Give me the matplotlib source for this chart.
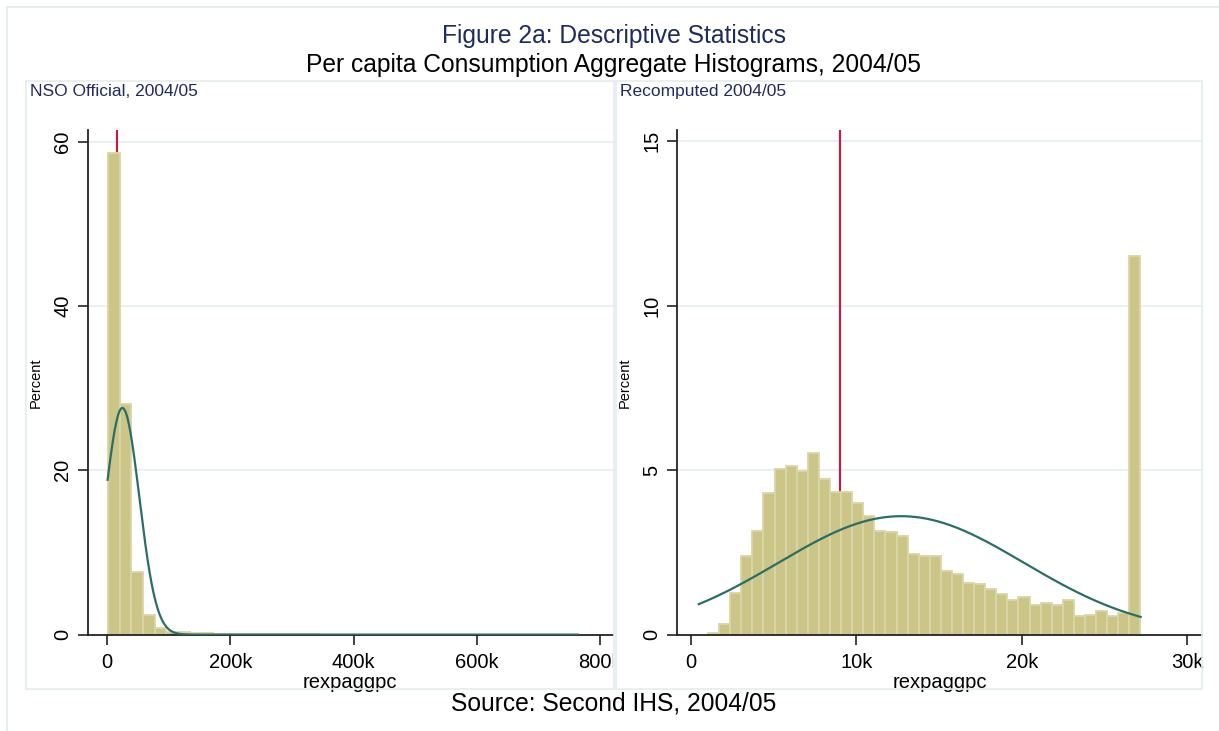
import numpy as np
import matplotlib
matplotlib.use("Agg")
import matplotlib.pyplot as plt
from matplotlib.patches import Rectangle
from matplotlib.lines import Line2D
from matplotlib.ticker import FixedLocator, FixedFormatter

# ---------------- data ----------------
# NSO official per-capita consumption: 40 bins starting at 1.1k, width 19k
nso_bin_start = 1100.0
nso_bin_width = 19000.0
nso_percent = [58.65, 28.10, 7.66, 2.39, 0.85, 0.36, 0.36, 0.20, 0.20, 0.08,
               0.06, 0.05, 0.04, 0.03, 0.03, 0.02, 0.02, 0.02, 0.01, 0.01,
               0.01, 0.01, 0.01, 0.0, 0.01, 0.0, 0.0, 0.01, 0.0, 0.0,
               0.0, 0.0, 0.0, 0.0, 0.0, 0.0, 0.0, 0.0, 0.0, 0.01]
nso_marker = 16200.0
nso_normal_mean = 24500.0
nso_normal_sd = 27500.0
nso_normal_peak = 27.6
nso_normal_range = (500.0, 764000.0)

# Recomputed per-capita consumption: 39 bins starting at 1.03k, width 0.67k
rec_bin_start = 1030.0
rec_bin_width = 670.0
rec_percent = [0.05, 0.33, 1.25, 2.40, 3.16, 4.29, 5.02, 5.14, 4.97, 5.53,
               4.74, 4.33, 4.33, 3.99, 3.60, 3.16, 3.11, 3.01, 2.46, 2.40,
               2.38, 1.92, 1.85, 1.58, 1.55, 1.39, 1.22, 1.06, 1.13, 0.91,
               0.95, 0.91, 1.05, 0.58, 0.61, 0.72, 0.58, 0.65, 11.52]
rec_marker = 9030.0
rec_normal_mean = 12700.0
rec_normal_sd = 7420.0
rec_normal_peak = 3.60
rec_normal_range = (470.0, 27170.0)

nso_xticks = [0, 200000, 400000, 600000, 800000]
nso_xticklabels = ["0", "200k", "400k", "600k", "800k"]
nso_yticks = [0, 20, 40, 60]
rec_xticks = [0, 10000, 20000, 30000]
rec_xticklabels = ["0", "10k", "20k", "30k"]
rec_yticks = [0, 5, 10, 15]

title = "Figure 2a: Descriptive Statistics"
subtitle = "Per capita Consumption Aggregate Histograms, 2004/05"
panel_titles = ["NSO Official, 2004/05", "Recomputed 2004/05"]
x_label = "rexpaggpc"
y_label = "Percent"
source_note = "Source: Second IHS, 2004/05"

# ---------------- style ----------------
FONT = "Liberation Sans"
BAR_FILL = "#cbc588"
BAR_EDGE = "#dad6a6"
CURVE = "#2a6e66"
MARKER = "#d4143f"
GRID = "#e9f0f2"
BOX = "#e4ecee"
NAVY = "#1e2c5c"
AXIS = "#222222"

W, H = 1219, 731
fig = plt.figure(figsize=(W / 100, H / 100), dpi=100)
fig.patch.set_facecolor("white")


def px_rect(x0, y0, x1, y1):
    return [x0 / W, 1 - y1 / H, (x1 - x0) / W, (y1 - y0) / H]


def fig_line(xs, ys, color, lw=1.2):
    fig.add_artist(Line2D([x / W for x in xs], [1 - y / H for y in ys],
                          transform=fig.transFigure, color=color, lw=lw))


# outer frame (left and top edges visible)
fig_line([7, 7], [7, 731], BOX, 1.3)
fig_line([7, 1219], [7, 7], BOX, 1.3)

# panel boxes
for (x0, x1) in [(26, 614), (616, 1202)]:
    fig.add_artist(Rectangle((x0 / W, 1 - 689 / H), (x1 - x0) / W, (689 - 81) / H,
                             transform=fig.transFigure, fill=False,
                             edgecolor=BOX, lw=1.2))

fig.text(614 / W, 1 - 43 / H, title, ha="center", va="baseline",
         fontsize=17.7, color=NAVY, family=FONT)
fig.text(613 / W, 1 - 72 / H, subtitle, ha="center", va="baseline",
         fontsize=17.7, color="black", family=FONT)
fig.text(30 / W, 1 - 96 / H, panel_titles[0], ha="left", va="baseline",
         fontsize=12.5, color=NAVY, family=FONT)
fig.text(620 / W, 1 - 96 / H, panel_titles[1], ha="left", va="baseline",
         fontsize=12.5, color=NAVY, family=FONT)
fig.text(614 / W, 1 - 711 / H, source_note, ha="center", va="baseline",
         fontsize=17.7, color="black", family=FONT)


def draw_panel(rect, start, width, pct, marker, mu, sd, peak, xr,
               xlim, ylim, xticks, xticklabels, yticks, clip_x=None):
    ax = fig.add_axes(rect)
    ax.set_facecolor("none")
    n = len(pct)
    lefts = start + width * np.arange(n)
    ax.bar(lefts, pct, width=width, align="edge", color=BAR_FILL,
           edgecolor=BAR_EDGE, linewidth=1.3, zorder=2)
    ax.axvline(marker, color=MARKER, lw=1.5, zorder=1.5)
    xs = np.linspace(xr[0], xr[1], 600)
    ax.plot(xs, peak * np.exp(-0.5 * ((xs - mu) / sd) ** 2),
            color=CURVE, lw=1.6, zorder=3)
    ax.set_xlim(*xlim)
    ax.set_ylim(*ylim)
    for y in yticks[1:]:
        ax.axhline(y, color=GRID, lw=1.5, zorder=0.5)
    ax.xaxis.set_major_locator(FixedLocator(xticks))
    ax.xaxis.set_major_formatter(FixedFormatter(xticklabels))
    ax.yaxis.set_major_locator(FixedLocator(yticks))
    for s in ["top", "right"]:
        ax.spines[s].set_visible(False)
    for s in ["left", "bottom"]:
        ax.spines[s].set_color(AXIS)
        ax.spines[s].set_linewidth(1.3)
    ax.tick_params(axis="both", direction="out", length=7, width=1.2,
                   color=AXIS, labelsize=14.5, pad=4)
    ax.tick_params(axis="x", pad=6)
    for lbl in ax.get_yticklabels():
        lbl.set_rotation(90)
        lbl.set_va("center")
        lbl.set_family(FONT)
    for lbl in ax.get_xticklabels():
        lbl.set_family(FONT)
    ax.set_xlabel(x_label, fontsize=14.5, family=FONT, labelpad=1)
    ax.set_ylabel(y_label, fontsize=10.5, family=FONT, labelpad=8)
    if clip_x is not None:
        clip = Rectangle((0, 0), clip_x / W, 1, transform=fig.transFigure)
        for t in ax.xaxis.get_major_ticks():
            t.label1.set_clip_path(clip)
    return ax


draw_panel(px_rect(87.7, 130, 613, 634.6), nso_bin_start, nso_bin_width,
           nso_percent, nso_marker, nso_normal_mean, nso_normal_sd,
           nso_normal_peak, nso_normal_range, (-31800, 821100), (0, 61.45),
           nso_xticks, nso_xticklabels, nso_yticks, clip_x=613)
draw_panel(px_rect(677, 130, 1202, 634.6), rec_bin_start, rec_bin_width,
           rec_percent, rec_marker, rec_normal_mean, rec_normal_sd,
           rec_normal_peak, rec_normal_range, (-846, 30880), (0, 15.34),
           rec_xticks, rec_xticklabels, rec_yticks)

fig.savefig("out.png", dpi=100, facecolor="white")
